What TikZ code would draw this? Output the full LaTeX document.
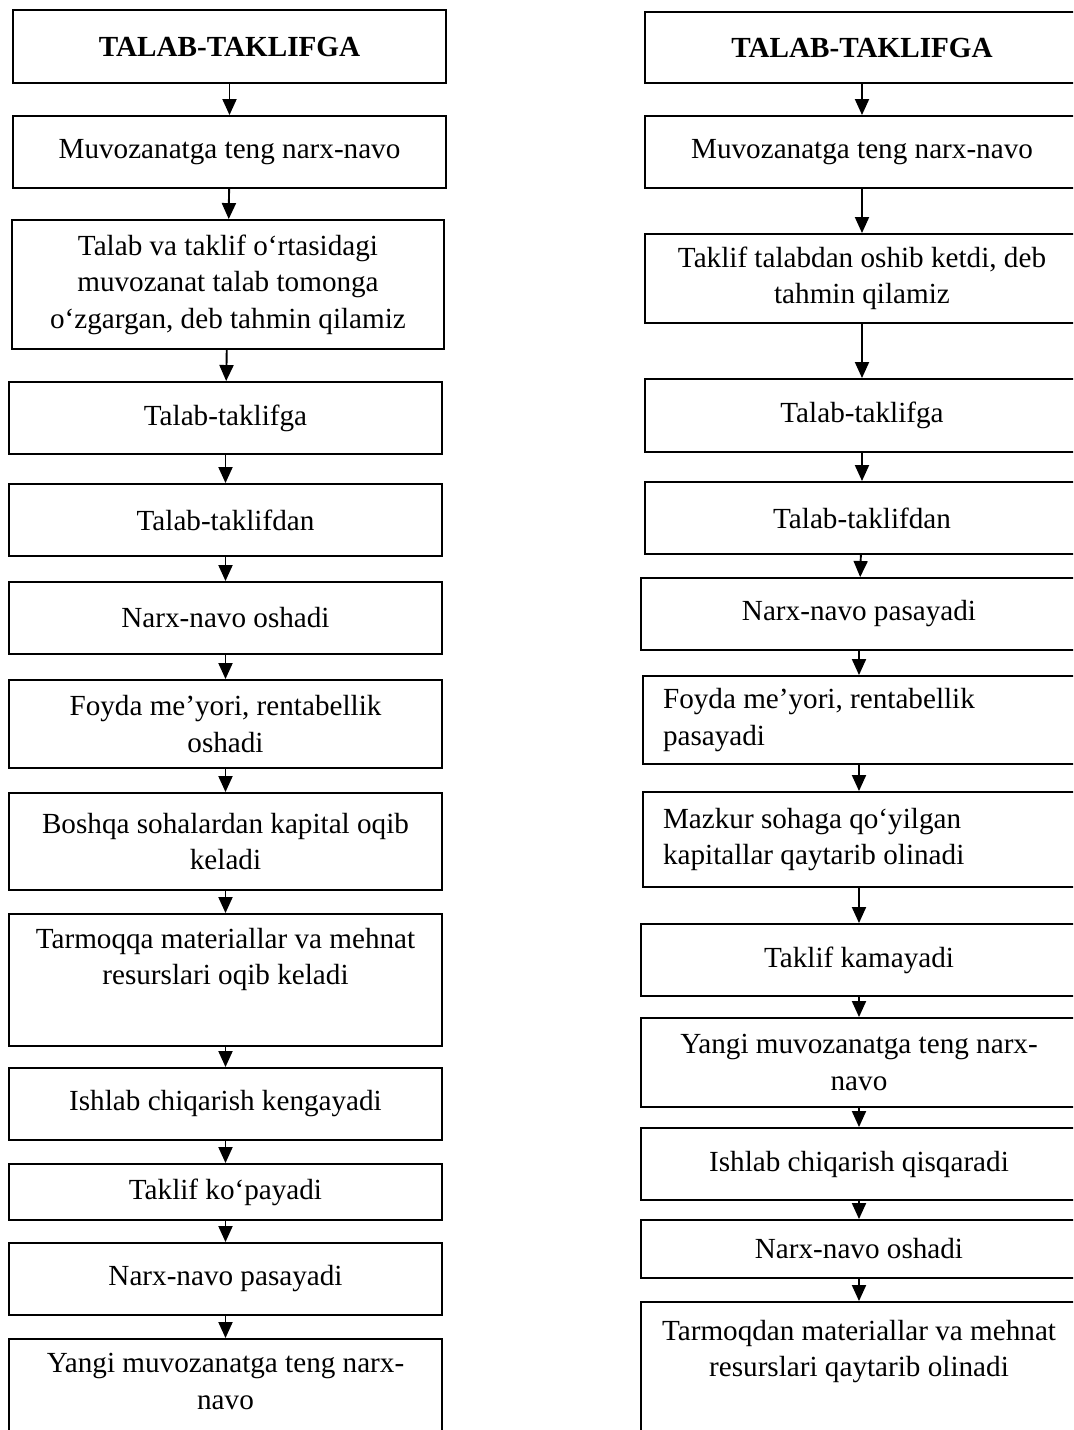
\documentclass[tikz,border=0pt]{standalone}
\usepackage{fontspec}
\setmainfont{Liberation Serif}
\usetikzlibrary{arrows.meta}

\begin{document}
\begin{tikzpicture}[x=0.02cm, y=-0.02cm,
	blk/.style={draw, line width=1.1pt, align=center, minimum width=8.66cm, font=\fontsize{16.6}{20.8}\selectfont},
	lblk/.style={blk, align=flush left, text width=7.84cm, inner xsep=0.41cm},
	arr/.style={line width=1.1pt, -{Triangle[length=0.32cm, width=0.28cm]}}]
	\useasboundingbox (0,0) rectangle (1073,1430);
	\clip (0,0) rectangle (1073,1430);
	\node[blk, minimum height=1.46cm] (l1) at (229.5,46.5) {\bfseries TALAB-TAKLIFGA};
	\node[blk, minimum height=1.44cm] (l2) at (229.5,152) {Muvozanatga teng narx-navo};
	\node[blk, minimum height=2.58cm, minimum width=8.64cm] (l3) at (228,284.5) {Talab va taklif o‘rtasidagi\\muvozanat talab tomonga\\o‘zgargan, deb tahmin qilamiz};
	\node[blk, minimum height=1.44cm] (l4) at (225.5,418) {Talab-taklifga};
	\node[blk, minimum height=1.44cm] (l5) at (225.5,520) {Talab-taklifdan};
	\node[blk, minimum height=1.44cm] (l6) at (225.5,618) {Narx-navo oshadi};
	\node[blk, minimum height=1.76cm] (l7) at (225.5,724) {Foyda me’yori, rentabellik\\oshadi};
	\node[blk, minimum height=1.94cm] (l8) at (225.5,841.5) {Boshqa sohalardan kapital oqib\\keladi};
	\node[blk, minimum height=2.64cm] (l9) at (225.5,980) {Tarmoqqa materiallar va mehnat\\resurslari oqib keladi\\ \strut};
	\node[blk, minimum height=1.44cm] (l10) at (225.5,1104) {Ishlab chiqarish kengayadi};
	\node[blk, minimum height=1.12cm] (l11) at (225.5,1192) {Taklif ko‘payadi};
	\node[blk, minimum height=1.44cm] (l12) at (225.5,1279) {Narx-navo pasayadi};
	\node[blk, minimum height=2.64cm] (l13) at (225.5,1405) {Yangi muvozanatga teng narx-\\navo\\ \strut};

	\node[blk, minimum height=1.42cm, minimum width=8.68cm] (r1) at (862,47.5) {\bfseries TALAB-TAKLIFGA};
	\node[blk, minimum height=1.44cm, minimum width=8.68cm] (r2) at (862,152) {Muvozanatga teng narx-navo};
	\node[blk, minimum height=1.78cm, minimum width=8.68cm] (r3) at (862,278.5) {Taklif talabdan oshib ketdi, deb\\tahmin qilamiz};
	\node[blk, minimum height=1.46cm, minimum width=8.68cm] (r4) at (862,415.5) {Talab-taklifga};
	\node[blk, minimum height=1.44cm, minimum width=8.68cm] (r5) at (862,518) {Talab-taklifdan};
	\node[blk, minimum height=1.44cm, minimum width=8.72cm] (r6) at (859,614) {Narx-navo pasayadi};
	\node[lblk, minimum height=1.76cm] (r7) at (859,720) {Foyda me’yori, rentabellik\\pasayadi};
	\node[lblk, minimum height=1.90cm] (r8) at (859,839.5) {Mazkur sohaga qo‘yilgan\\kapitallar qaytarib olinadi};
	\node[blk, minimum height=1.44cm, minimum width=8.72cm] (r9) at (859,960) {Taklif kamayadi};
	\node[blk, minimum height=1.78cm, minimum width=8.72cm] (r10) at (859,1062.5) {Yangi muvozanatga teng narx-\\navo};
	\node[blk, minimum height=1.44cm, minimum width=8.72cm] (r11) at (859,1164) {Ishlab chiqarish qisqaradi};
	\node[blk, minimum height=1.16cm, minimum width=8.72cm] (r12) at (859,1249) {Narx-navo oshadi};
	\node[blk, minimum height=2.80cm, minimum width=8.72cm] (r13) at (859,1372) {Tarmoqdan materiallar va mehnat\\resurslari qaytarib olinadi\\ \strut};

	\draw[arr] (l1) -- (l2);
	\draw[arr] (l2) -- (l3);
	\draw[arr] (l3) -- (l4);
	\draw[arr] (l4) -- (l5);
	\draw[arr] (l5) -- (l6);
	\draw[arr] (l6) -- (l7);
	\draw[arr] (l7) -- (l8);
	\draw[arr] (l8) -- (l9);
	\draw[arr] (l9) -- (l10);
	\draw[arr] (l10) -- (l11);
	\draw[arr] (l11) -- (l12);
	\draw[arr] (l12) -- (l13);
	\draw[arr] (r1) -- (r2);
	\draw[arr] (r2) -- (r3);
	\draw[arr] (r3) -- (r4);
	\draw[arr] (r4) -- (r5);
	\draw[arr] (r5) -- (r6);
	\draw[arr] (r6) -- (r7);
	\draw[arr] (r7) -- (r8);
	\draw[arr] (r8) -- (r9);
	\draw[arr] (r9) -- (r10);
	\draw[arr] (r10) -- (r11);
	\draw[arr] (r11) -- (r12);
	\draw[arr] (r12) -- (r13);
\end{tikzpicture}
\end{document}
